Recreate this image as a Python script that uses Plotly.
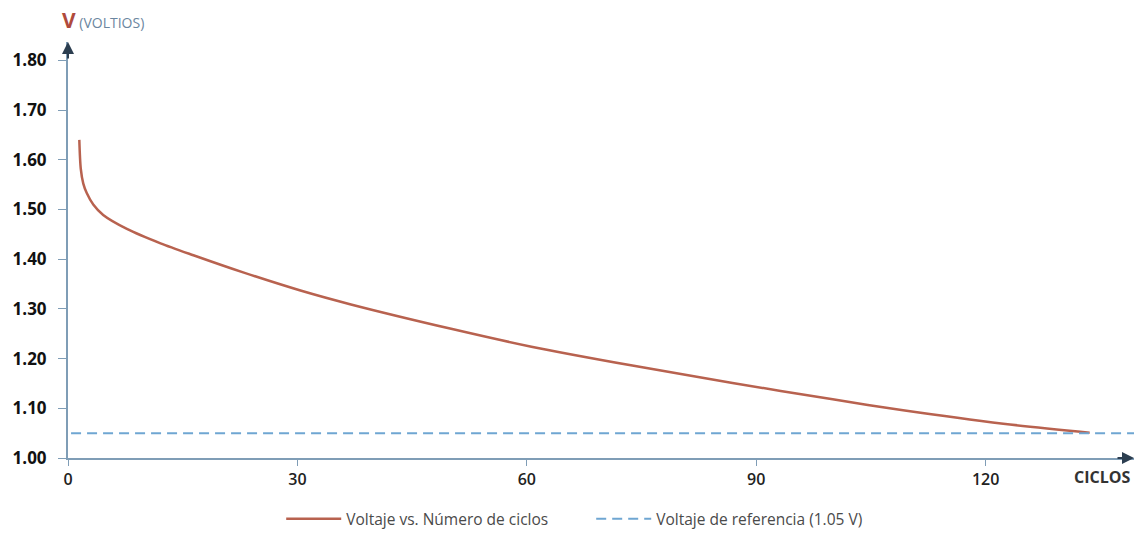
import plotly.graph_objects as go

# Data
cycles = [1.48, 1.67, 2.0, 2.45, 3.3, 4.6, 7.7, 12.1, 16.4, 23.0, 30.4, 37.0, 50.1,
          60.6, 73.8, 86.9, 100.0, 109.2, 122.3, 133.6]
voltage = [1.640, 1.582, 1.552, 1.533, 1.510, 1.489, 1.461, 1.432, 1.408, 1.373, 1.337,
           1.309, 1.260, 1.224, 1.186, 1.151, 1.118, 1.096, 1.069, 1.051]
ref_x = [0.4, 139.4]
ref_v = [1.05, 1.05]
x_ticks = [0, 30, 60, 90, 120]
y_ticks = [1.00, 1.10, 1.20, 1.30, 1.40, 1.50, 1.60, 1.70, 1.80]
y_tick_text = ["1.00", "1.10", "1.20", "1.30", "1.40", "1.50", "1.60", "1.70", "1.80"]

FONT = "Open Sans"
AXIS_COL = "#7f9db6"
LINE_COL = "#b8624f"
REF_COL = "#6fa6d2"

fig = go.Figure()
fig.add_trace(go.Scatter(
    x=cycles, y=voltage, mode="lines", name="Voltaje vs. Número de ciclos",
    line=dict(color=LINE_COL, width=2.5, shape="spline", smoothing=0.8),
))
fig.add_trace(go.Scatter(
    x=ref_x, y=ref_v, mode="lines", name="Voltaje de referencia (1.05 V)",
    line=dict(color=REF_COL, width=2, dash="10px,6px"),
))

fig.update_layout(
    width=1136, height=538,
    margin=dict(l=68, r=2, t=42, b=75),
    paper_bgcolor="white", plot_bgcolor="white",
    font=dict(family=FONT, color="#222"),
    showlegend=True,
    legend=dict(orientation="h", x=0.2, xanchor="left", y=-0.147, yanchor="middle",
                font=dict(family=FONT, size=15.5, color="#4a4a4a"),
                itemwidth=55, entrywidth=240, entrywidthmode="pixels",
                bgcolor="rgba(0,0,0,0)"),
    xaxis=dict(range=[0, 139.4], showgrid=False, zeroline=False, automargin=False,
               showline=True, linecolor=AXIS_COL, linewidth=2,
               tickmode="array", tickvals=x_ticks, ticks="outside", ticklen=6,
               tickcolor=AXIS_COL, tickwidth=1,
               tickfont=dict(family=FONT, size=16, color="#222", weight=600)),
    yaxis=dict(range=[1.0, 1.837], showgrid=False, zeroline=False, automargin=False,
               showline=True, linecolor=AXIS_COL, linewidth=2,
               tickmode="array", tickvals=y_ticks, ticktext=y_tick_text,
               ticks="outside", ticklen=8, tickcolor=AXIS_COL, tickwidth=1,
               ticklabelstandoff=8,
               tickfont=dict(family=FONT, size=17, color="#111", weight=700)),
)

# Axis arrow heads
fig.add_annotation(xref="paper", yref="paper", x=1, y=0, ax=-18, ay=0,
                   showarrow=True, arrowhead=2, arrowsize=1.2, arrowwidth=2,
                   arrowcolor="#2c3e50", text="")
fig.add_annotation(xref="paper", yref="paper", x=0, y=1, ax=0, ay=18,
                   showarrow=True, arrowhead=2, arrowsize=1.2, arrowwidth=2,
                   arrowcolor="#2c3e50", text="")

# Axis titles
fig.add_annotation(xref="paper", yref="paper", x=0, y=1, xanchor="left", yanchor="bottom",
                   xshift=-8, yshift=6, showarrow=False,
                   text="<b><span style='color:#b04a3c;font-size:21px'>V</span></b>"
                        "<span style='color:#6b86a0;font-size:14px'> (VOLTIOS)</span>",
                   font=dict(family=FONT))
fig.add_annotation(xref="paper", yref="paper", x=1, y=0, xanchor="right", yanchor="top",
                   xshift=-2, yshift=-6, showarrow=False,
                   text="<b>CICLOS</b>", font=dict(family=FONT, size=16, color="#333"))

fig.write_html("out.html", config={"displayModeBar": False},
               post_script="document.body.style.margin='0';document.body.style.overflow='hidden';")
